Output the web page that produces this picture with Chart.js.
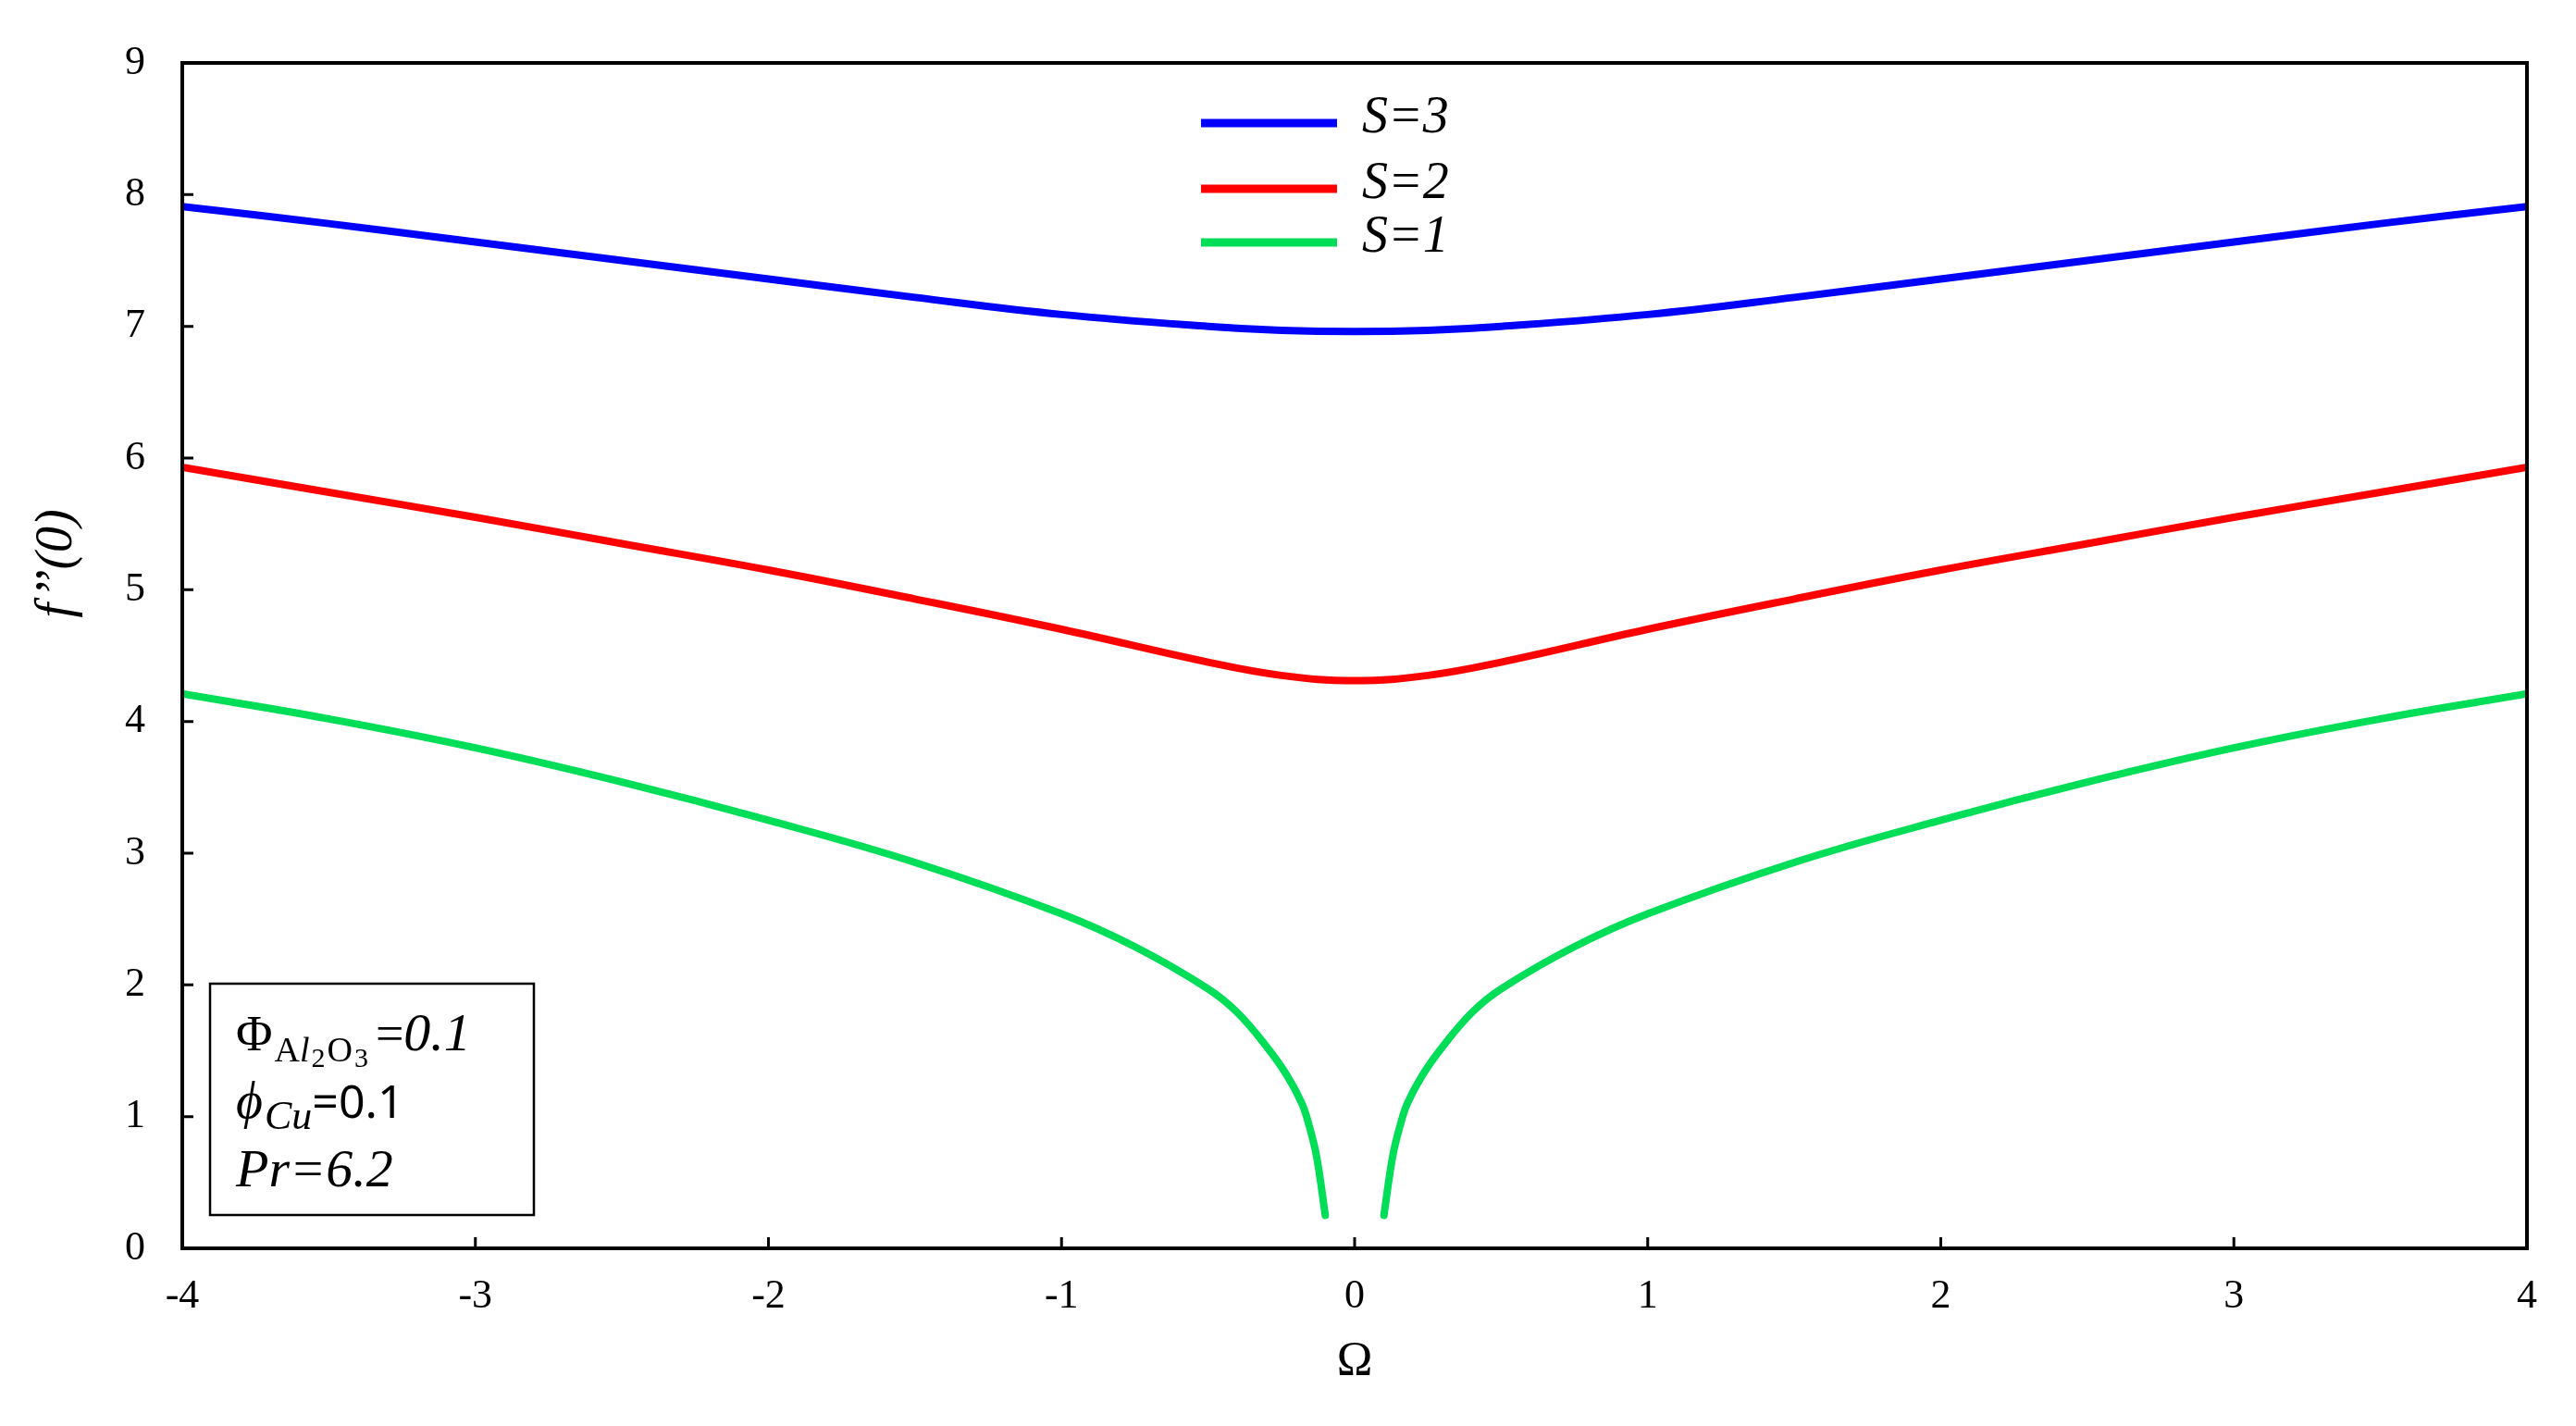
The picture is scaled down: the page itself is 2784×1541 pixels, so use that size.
<!DOCTYPE html>
<html>
<head>
<meta charset="utf-8">
<script src="https://cdn.jsdelivr.net/npm/chart.js@4.4.1/dist/chart.umd.min.js"></script>
<style>
  html, body { margin: 0; padding: 0; background: #fff; }
  #wrap { width: 2784px; height: 1541px; }
</style>
</head>
<body>
<div id="wrap"><canvas id="chart"></canvas></div>
<script>
// values
const omega = [-4, -3.5, -3, -2.5, -2, -1.5, -1, -0.5, -0.25, 0, 0.25, 0.5, 1, 1.5, 2, 2.5, 3, 3.5, 4];
const fppS3 = [7.91, 7.78, 7.64, 7.50, 7.36, 7.22, 7.09, 7.00, 6.97, 6.96, 6.97, 7.00, 7.09, 7.22, 7.36, 7.50, 7.64, 7.78, 7.91];
const fppS2 = [5.93, 5.74, 5.55, 5.35, 5.15, 4.93, 4.70, 4.45, 4.35, 4.31, 4.35, 4.45, 4.70, 4.93, 5.15, 5.35, 5.55, 5.74, 5.93];

// S=1 has no solution near Omega = 0 (gap)
const omegaS1 = [-4, -3.5, -3, -2.5, -2, -1.5, -1, -0.75, -0.5, -0.4, -0.3, -0.23, -0.18, -0.155, -0.13, -0.1,
                 0,
                 0.1, 0.13, 0.155, 0.18, 0.23, 0.3, 0.4, 0.5, 0.75, 1, 1.5, 2, 2.5, 3, 3.5, 4];
const fppS1 = [4.21, 4.02, 3.80, 3.54, 3.25, 2.93, 2.54, 2.29, 1.97, 1.79, 1.53, 1.31, 1.10, 0.93, 0.70, 0.25,
               null,
               0.25, 0.70, 0.93, 1.10, 1.31, 1.53, 1.79, 1.97, 2.29, 2.54, 2.93, 3.25, 3.54, 3.80, 4.02, 4.21];

const seriesLabels = ['S=3', 'S=2', 'S=1'];
const seriesColors = ['#0000ff', '#ff0000', '#00de58'];
const xTicks = [-4, -3, -2, -1, 0, 1, 2, 3, 4];
const yTicks = [0, 1, 2, 3, 4, 5, 6, 7, 8, 9];
const yTitle = 'f\u2019\u2019(0)';

const toPoints = (xs, ys) => xs.map((x, i) => ({ x: x, y: ys[i] }));

const serif = '"Liberation Serif", "Times New Roman", serif';

// box around the plot, inward ticks, y title, legend and parameter box
const decorPlugin = {
  id: 'decor',
  afterDraw(chart) {
    const { ctx, chartArea: a, scales: { x, y } } = chart;
    ctx.save();
    ctx.strokeStyle = '#000';
    ctx.lineWidth = 4;
    ctx.strokeRect(a.left, a.top, a.right - a.left, a.bottom - a.top);

    ctx.lineWidth = 3;
    ctx.beginPath();
    xTicks.forEach(v => {
      const px = x.getPixelForValue(v);
      ctx.moveTo(px, a.bottom);
      ctx.lineTo(px, a.bottom - 12);
    });
    yTicks.forEach(v => {
      const py = y.getPixelForValue(v);
      ctx.moveTo(a.left, py);
      ctx.lineTo(a.left + 12, py);
    });
    ctx.stroke();

    // y axis title, sits a little above the middle like the original
    ctx.save();
    ctx.translate(a.left - 135, y.getPixelForValue(5.2));
    ctx.rotate(-Math.PI / 2);
    ctx.fillStyle = '#000';
    ctx.font = 'italic 56px ' + serif;
    ctx.textAlign = 'center';
    ctx.textBaseline = 'middle';
    ctx.fillText(yTitle, 0, 0);
    ctx.restore();

    // legend
    const rows = [65, 136, 194];
    chart.data.datasets.forEach((ds, i) => {
      const ly = a.top + rows[i];
      ctx.strokeStyle = ds.borderColor;
      ctx.lineWidth = 9;
      ctx.lineCap = 'butt';
      ctx.beginPath();
      ctx.moveTo(a.left + 1101, ly);
      ctx.lineTo(a.left + 1248, ly);
      ctx.stroke();
      ctx.fillStyle = '#000';
      ctx.font = 'italic 56px ' + serif;
      ctx.textBaseline = 'alphabetic';
      ctx.textAlign = 'left';
      ctx.fillText(ds.label, a.left + 1275, ly + 10);
    });

    // parameter box
    ctx.strokeStyle = '#000';
    ctx.lineWidth = 2.5;
    ctx.strokeRect(a.left + 30, a.bottom - 286, 350, 250);

    const drawRuns = (runs, x0, base) => {
      let cx = x0;
      runs.forEach(r => {
        ctx.font = r.font;
        cx += r.gap || 0;
        ctx.fillText(r.t, cx, base + (r.dy || 0));
        cx += ctx.measureText(r.t).width;
      });
    };
    const tx = a.left + 58;
    drawRuns([
      { t: 'Φ', font: '54px ' + serif },
      { t: 'A', font: '38px ' + serif, dy: 12, gap: 2 },
      { t: 'l', font: 'italic 38px ' + serif, dy: 12 },
      { t: '2', font: '30px ' + serif, dy: 18, gap: 2 },
      { t: 'O', font: '38px ' + serif, dy: 12, gap: 2 },
      { t: '3', font: '30px ' + serif, dy: 18, gap: 2 },
      { t: '=', font: '54px ' + serif, gap: 8 },
      { t: '0.1', font: 'italic 58px ' + serif }
    ], tx, a.bottom - 214);
    drawRuns([
      { t: '\u03D5', font: 'italic 56px ' + serif },
      { t: 'Cu', font: 'italic 44px ' + serif, dy: 12, gap: 2 },
      { t: '=0.1', font: '50px "Noto Sans", sans-serif' }
    ], tx, a.bottom - 141);
    drawRuns([
      { t: 'Pr=6.2', font: 'italic 58px ' + serif }
    ], tx, a.bottom - 67);
    ctx.restore();
  }
};

new Chart(document.getElementById('chart'), {
  type: 'line',
  data: {
    datasets: [
      { label: seriesLabels[0], data: toPoints(omega, fppS3), borderColor: seriesColors[0] },
      { label: seriesLabels[1], data: toPoints(omega, fppS2), borderColor: seriesColors[1] },
      { label: seriesLabels[2], data: toPoints(omegaS1, fppS1), borderColor: seriesColors[2] }
    ]
  },
  options: {
    responsive: true,
    maintainAspectRatio: false,
    animation: false,
    devicePixelRatio: 1,
    spanGaps: false,
    layout: { padding: { left: 0, top: 68, right: 53, bottom: 0 } },
    elements: {
      point: { radius: 0 },
      line: { borderWidth: 8, tension: 0.4, borderCapStyle: 'round', fill: false }
    },
    plugins: {
      legend: { display: false },
      tooltip: { enabled: false }
    },
    scales: {
      x: {
        type: 'linear',
        min: -4,
        max: 4,
        grid: { display: false, drawTicks: false },
        border: { display: false },
        afterFit: s => { s.height = 192; },
        afterBuildTicks: s => { s.ticks = xTicks.map(v => ({ value: v })); },
        ticks: { color: '#000', padding: 26, font: { family: serif, size: 44 } },
        title: { display: true, text: 'Ω', color: '#000', font: { family: serif, size: 52 }, padding: { top: 0, bottom: 37 } }
      },
      y: {
        min: 0,
        max: 9,
        grid: { display: false, drawTicks: false },
        border: { display: false },
        afterFit: s => { s.width = 197; },
        afterBuildTicks: s => { s.ticks = yTicks.map(v => ({ value: v })); },
        ticks: { color: '#000', padding: 40, font: { family: serif, size: 44 } }
      }
    }
  },
  plugins: [decorPlugin]
});
</script>
</body>
</html>
